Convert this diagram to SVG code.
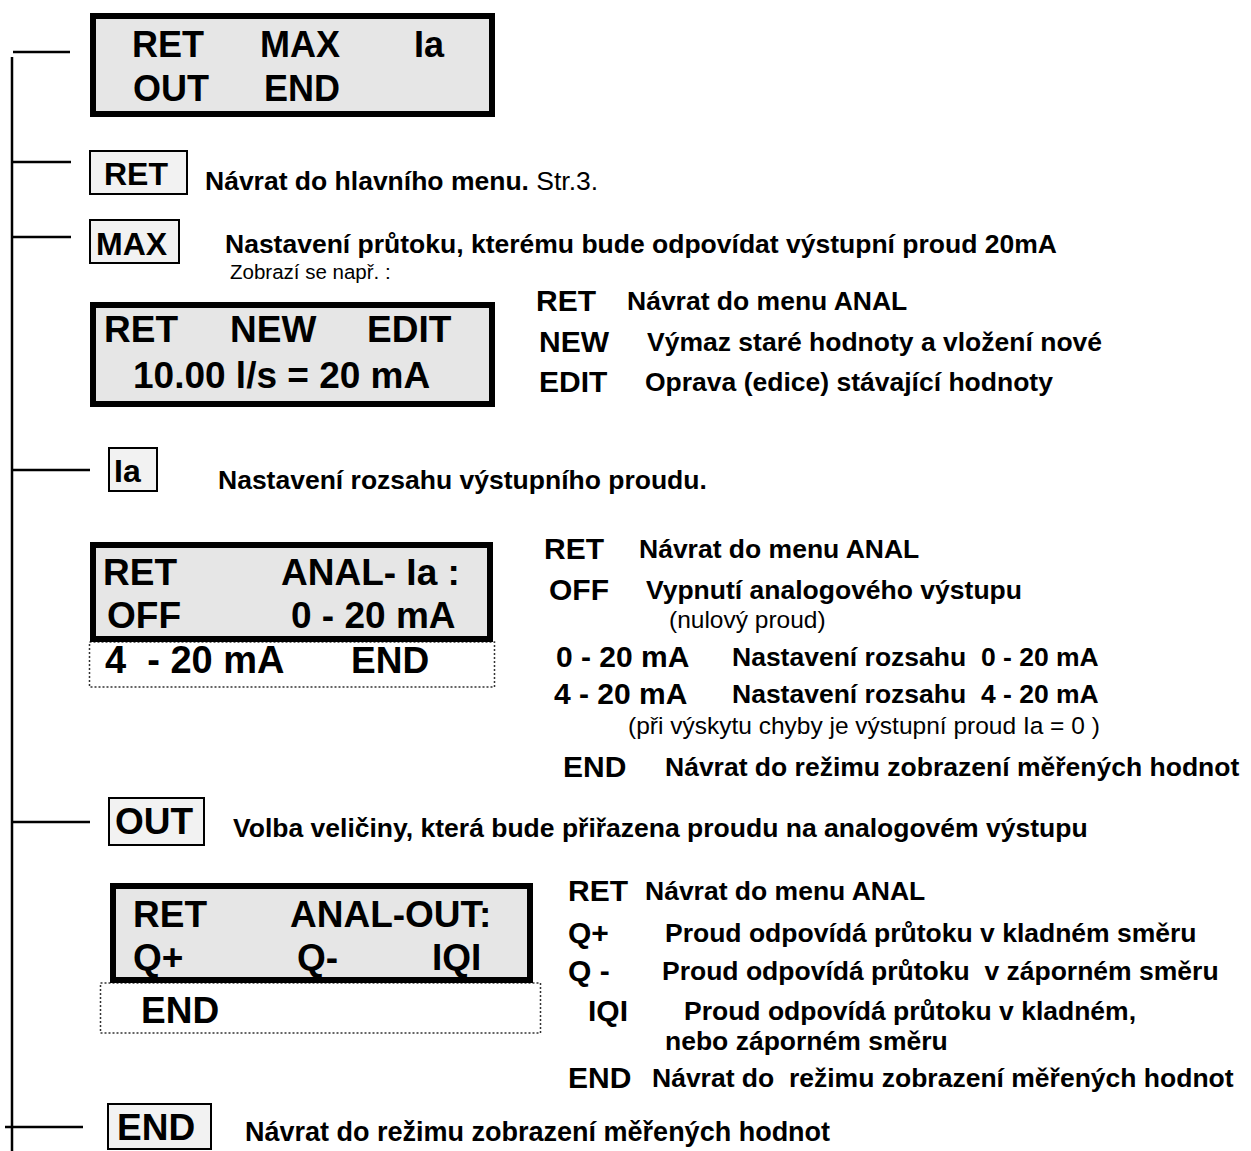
<svg xmlns="http://www.w3.org/2000/svg" width="1251" height="1151" viewBox="0 0 1251 1151">
<style>
text{font-family:"Liberation Sans",Arial,Helvetica,sans-serif;font-weight:bold;fill:#000;white-space:pre}
.lcd{fill:#e6e6e6;stroke:#000;stroke-width:6}
.key{fill:#f2f2f2;stroke:#000;stroke-width:2}
.dot{fill:none;stroke:#333;stroke-width:1.5;stroke-dasharray:2 2}
.ln{stroke:#000;stroke-width:2.5;fill:none}
.l36{font-size:36px}
.l37{font-size:37px}
.k32{font-size:32px}
.k30{font-size:30px}
.d{font-size:26.5px}
.r{font-weight:normal;font-size:24.5px}
</style>
<g id="connectors">
<line class="ln" x1="12" y1="57" x2="12" y2="1151"/>
<line class="ln" x1="13" y1="52" x2="70" y2="52"/>
<line class="ln" x1="13" y1="162" x2="71" y2="162"/>
<line class="ln" x1="13" y1="237" x2="71" y2="237"/>
<line class="ln" x1="13" y1="470" x2="90" y2="470"/>
<line class="ln" x1="13" y1="822" x2="90" y2="822"/>
<line class="ln" x1="5" y1="1127" x2="83" y2="1127"/>
</g>
<g id="menu-anal">
<rect class="lcd" x="93" y="16" width="399" height="98"/>
<text class="l36" x="132" y="57">RET</text>
<text class="l36" x="260" y="57">MAX</text>
<text class="l36" x="414" y="57">Ia</text>
<text class="l36" x="133" y="101">OUT</text>
<text class="l36" x="264" y="101">END</text>
</g>
<g id="key-ret">
<rect class="key" x="90" y="151" width="97" height="43"/>
<text class="k32" x="104" y="185">RET</text>
<text class="d" x="205" y="190">Návrat do hlavního menu.<tspan font-weight="normal"> Str.3.</tspan></text>
</g>
<g id="key-max">
<rect class="key" x="90" y="220" width="89" height="43"/>
<text class="k32" x="96" y="255">MAX</text>
<text class="d" x="225" y="253">Nastavení průtoku, kterému bude odpovídat výstupní proud 20mA</text>
<text class="r" x="230" y="279" style="font-size:20.5px">Zobrazí se např. :</text>
</g>
<g id="lcd-max">
<rect class="lcd" x="93" y="305" width="399" height="99"/>
<text class="l37" x="104" y="342">RET</text>
<text class="l37" x="230" y="342">NEW</text>
<text class="l37" x="367" y="342">EDIT</text>
<text class="l37" x="133" y="388">10.00 l/s = 20 mA</text>
</g>
<g id="list-max">
<text class="k30" x="536" y="311">RET</text>
<text class="d" x="627" y="310">Návrat do menu ANAL</text>
<text class="k30" x="539" y="352">NEW</text>
<text class="d" x="647" y="351">Výmaz staré hodnoty a vložení nové</text>
<text class="k30" x="539" y="392">EDIT</text>
<text class="d" x="645" y="391">Oprava (edice) stávající hodnoty</text>
</g>
<g id="key-ia">
<rect class="key" x="109" y="448" width="48" height="43"/>
<text class="k32" x="114" y="482">Ia</text>
<text class="d" x="218" y="489">Nastavení rozsahu výstupního proudu.</text>
</g>
<g id="lcd-ia">
<rect class="dot" x="89.5" y="642" width="405" height="45"/>
<rect class="lcd" x="93" y="545" width="397" height="94"/>
<text class="l37" x="103" y="585">RET</text>
<text class="l37" x="281" y="585">ANAL- Ia :</text>
<text class="l37" x="107" y="628">OFF</text>
<text class="l37" x="291" y="628">0 - 20 mA</text>
<text class="l37" x="105" y="673" style="font-size:38px">4  - 20 mA</text>
<text class="l37" x="351" y="673">END</text>
</g>
<g id="list-ia">
<text class="k30" x="544" y="559">RET</text>
<text class="d" x="639" y="558">Návrat do menu ANAL</text>
<text class="k30" x="549" y="600">OFF</text>
<text class="d" x="646" y="599">Vypnutí analogového výstupu</text>
<text class="r" x="669" y="628">(nulový proud)</text>
<text class="k30" x="556" y="667">0 - 20 mA</text>
<text class="d" x="732" y="666">Nastavení rozsahu  0 - 20 mA</text>
<text class="k30" x="554" y="704">4 - 20 mA</text>
<text class="d" x="732" y="703">Nastavení rozsahu  4 - 20 mA</text>
<text class="r" x="628" y="734">(při výskytu chyby je výstupní proud Ia = 0 )</text>
<text class="k30" x="563" y="777">END</text>
<text class="d" x="665" y="776">Návrat do režimu zobrazení měřených hodnot</text>
</g>
<g id="key-out">
<rect class="key" x="109" y="798" width="95" height="47"/>
<text class="l37" x="115" y="834">OUT</text>
<text class="d" x="233" y="837">Volba veličiny, která bude přiřazena proudu na analogovém výstupu</text>
</g>
<g id="lcd-out">
<rect class="dot" x="100.5" y="983" width="440" height="50"/>
<rect class="lcd" x="113" y="886" width="417" height="94"/>
<text class="l37" x="133" y="927">RET</text>
<text class="l37" x="290" y="927">ANAL-OUT:</text>
<text class="l37" x="133" y="970">Q+</text>
<text class="l37" x="297" y="970">Q-</text>
<text class="l37" x="432" y="970">IQI</text>
<text class="l37" x="141" y="1023">END</text>
</g>
<g id="list-out">
<text class="k30" x="568" y="901">RET</text>
<text class="d" x="645" y="900">Návrat do menu ANAL</text>
<text class="k30" x="568" y="943">Q+</text>
<text class="d" x="665" y="942">Proud odpovídá průtoku v kladném směru</text>
<text class="k30" x="568" y="981">Q -</text>
<text class="d" x="662" y="980">Proud odpovídá průtoku  v záporném směru</text>
<text class="k30" x="588" y="1021">IQI</text>
<text class="d" x="684" y="1020">Proud odpovídá průtoku v kladném,</text>
<text class="d" x="665" y="1050">nebo záporném směru</text>
<text class="k30" x="568" y="1088">END</text>
<text class="d" x="652" y="1087">Návrat do  režimu zobrazení měřených hodnot</text>
</g>
<g id="key-end">
<rect class="key" x="108" y="1104" width="103" height="45"/>
<text class="l37" x="117" y="1140">END</text>
<text class="d" x="245" y="1141" style="font-size:27px">Návrat do režimu zobrazení měřených hodnot</text>
</g>
</svg>
